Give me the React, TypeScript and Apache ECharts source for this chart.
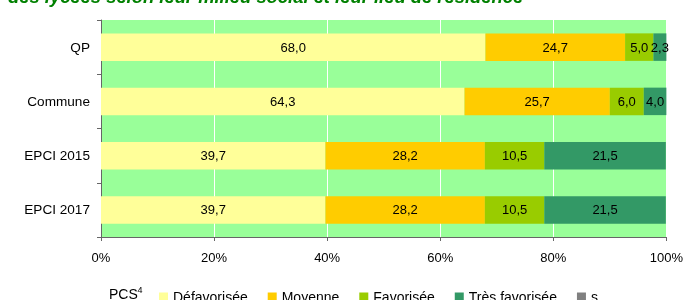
import React, { useEffect, useRef } from "react";
import * as echarts from "echarts";

const categories = ["QP", "Commune", "EPCI 2015", "EPCI 2017"];
const defavorisee = [68.0, 64.3, 39.7, 39.7];
const moyenne = [24.7, 25.7, 28.2, 28.2];
const favorisee = [5.0, 6.0, 10.5, 10.5];
const tresFavorisee = [2.3, 4.0, 21.5, 21.5];
const secret = [0, 0, 0, 0];
const seriesNames = ["Défavorisée", "Moyenne", "Favorisée", "Très favorisée", "s"];
const seriesColors = ["#FFFF99", "#FFCC00", "#99CC00", "#339966", "#808080"];
const xTicks = [0, 20, 40, 60, 80, 100];
const titleText = "des lycées selon leur milieu social et leur lieu de résidence";

const FONT = "'Liberation Sans', Arial, sans-serif";

export default function App() {
  const ref = useRef<HTMLDivElement>(null);
  useEffect(() => {
    if (!ref.current) return;
    document.body.style.margin = "0";
    const chart = echarts.init(ref.current, null, { renderer: "svg" });
    const seriesData = [defavorisee, moyenne, favorisee, tresFavorisee, secret];
    const fmt = (p: any) =>
      p.value ? Number(p.value).toFixed(1).replace(".", ",") : "";
    chart.setOption({
      animation: false,
      textStyle: { fontFamily: FONT },
      color: seriesColors,
      grid: {
        left: 101,
        right: 17.5,
        top: 20,
        height: 217,
        show: true,
        backgroundColor: "#99FF99",
        borderWidth: 0,
      },
      legend: {
        data: seriesNames,
        left: 159,
        top: 290,
        padding: 0,
        itemWidth: 9,
        itemHeight: 9,
        itemGap: 20,
        icon: "rect",
        textStyle: { fontSize: 14, color: "#000", fontFamily: FONT },
      },
      xAxis: {
        type: "value",
        min: xTicks[0],
        max: xTicks[xTicks.length - 1],
        interval: 20,
        axisLine: { show: true, lineStyle: { color: "#666", width: 1 } },
        axisTick: { show: true, length: 4, lineStyle: { color: "#666" } },
        axisLabel: {
          formatter: "{value}%",
          color: "#000",
          fontSize: 13,
          margin: 14,
          fontFamily: FONT,
        },
        splitLine: { show: true, lineStyle: { color: "#FFFFFF", width: 1 } },
      },
      yAxis: {
        type: "category",
        data: categories,
        inverse: true,
        axisLine: { show: true, lineStyle: { color: "#666", width: 1 } },
        axisTick: { show: true, length: 4, lineStyle: { color: "#666" } },
        axisLabel: { color: "#000", fontSize: 13.6, margin: 11, fontFamily: FONT },
        splitLine: { show: false },
      },
      graphic: [
        {
          type: "text",
          left: 8,
          y: -3.7,
          style: {
            text: titleText,
            fill: "#008000",
            font: `italic bold 18.4px ${FONT}`,
            verticalAlign: "middle",
          },
        },
        {
          type: "text",
          x: 109,
          y: 293.5,
          style: {
            text: "PCS",
            fill: "#000",
            font: `14px ${FONT}`,
            verticalAlign: "middle",
          },
        },
        {
          type: "text",
          x: 137.5,
          y: 290,
          style: {
            text: "4",
            fill: "#000",
            font: `9px ${FONT}`,
            verticalAlign: "middle",
          },
        },
      ],
      series: seriesNames.map((name, i) => ({
        name,
        type: "bar",
        stack: "total",
        barWidth: 27.5,
        data: seriesData[i],
        itemStyle: { color: seriesColors[i] },
        label: {
          show: true,
          position: "inside",
          formatter: fmt,
          color: "#000",
          fontSize: 13,
          fontFamily: FONT,
        },
      })),
    });
    return () => chart.dispose();
  }, []);
  return (
    <div
      ref={ref}
      style={{ position: "fixed", left: 0, top: 0, width: 686, height: 300 }}
    />
  );
}
